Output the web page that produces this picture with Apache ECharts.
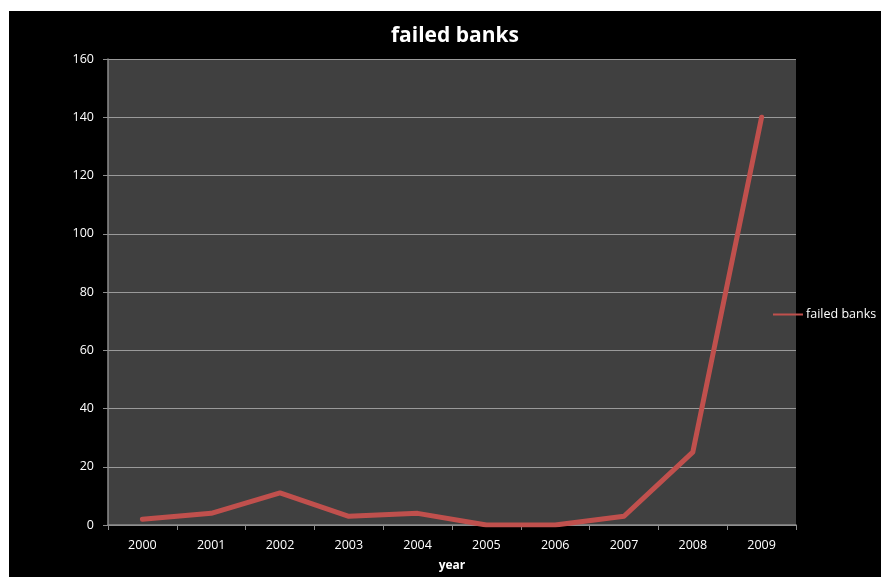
<!DOCTYPE html>
<html>
<head>
<meta charset="utf-8">
<script src="https://cdn.jsdelivr.net/npm/echarts@6/dist/echarts.min.js"></script>
<style>
  html, body { margin: 0; padding: 0; background: #ffffff; }
  #chart { width: 881px; height: 577px; }
</style>
</head>
<body>
<div id="chart"></div>
<script>
// Failed bank counts by year
const years = ['2000', '2001', '2002', '2003', '2004', '2005', '2006', '2007', '2008', '2009'];
const failedBanks = [2, 4, 11, 3, 4, 0, 0, 3, 25, 140];
const yTicks = { min: 0, max: 160, interval: 20 };

const chart = echarts.init(document.getElementById('chart'));
const font = '"Open Sans", "DejaVu Sans", sans-serif';

chart.setOption({
  backgroundColor: '#ffffff',
  graphic: [{
    type: 'rect',
    z: -10,
    silent: true,
    shape: { x: 9, y: 11, width: 872, height: 566 },
    style: { fill: '#000000' }
  }],
  title: {
    text: 'failed banks',
    left: 450,
    top: 21,
    textAlign: 'center',
    textStyle: { color: '#ffffff', fontSize: 21, fontWeight: 'bold', fontFamily: font }
  },
  legend: {
    orient: 'vertical',
    left: 773,
    top: 308,
    padding: 0,
    itemWidth: 30,
    itemHeight: 2,
    itemGap: 4,
    icon: 'rect',
    textStyle: { color: '#ffffff', fontSize: 12.5, fontFamily: font, padding: [0, 0, 0, -2] },
    data: ['failed banks']
  },
  grid: {
    left: 108,
    top: 59,
    right: 85,
    bottom: 41,
    show: true,
    backgroundColor: '#404040',
    borderWidth: 0
  },
  xAxis: {
    type: 'category',
    data: years,
    boundaryGap: true,
    name: 'year',
    nameLocation: 'middle',
    nameGap: 35,
    nameTextStyle: { color: '#ffffff', fontSize: 12, fontWeight: 'bold', fontFamily: font },
    axisLine: { lineStyle: { color: '#8c8c8c', width: 1.5 } },
    axisTick: { show: true, length: 5, lineStyle: { color: '#8c8c8c' } },
    axisLabel: { color: '#ffffff', fontSize: 12.5, fontFamily: font, margin: 14 },
    splitLine: { show: false }
  },
  yAxis: {
    type: 'value',
    min: yTicks.min,
    max: yTicks.max,
    interval: yTicks.interval,
    axisLine: { show: true, lineStyle: { color: '#8c8c8c', width: 1.5 } },
    axisTick: { show: true, length: 5, lineStyle: { color: '#8c8c8c' } },
    axisLabel: { color: '#ffffff', fontSize: 12.5, fontFamily: font, margin: 14 },
    splitLine: { show: true, lineStyle: { color: '#9a9a9a', width: 1 } }
  },
  series: [{
    name: 'failed banks',
    type: 'line',
    data: failedBanks,
    symbol: 'none',
    smooth: false,
    color: '#c0504d',
    lineStyle: { color: '#c0504d', width: 5, cap: 'round', join: 'round' }
  }],
  animation: false
});
</script>
</body>
</html>
